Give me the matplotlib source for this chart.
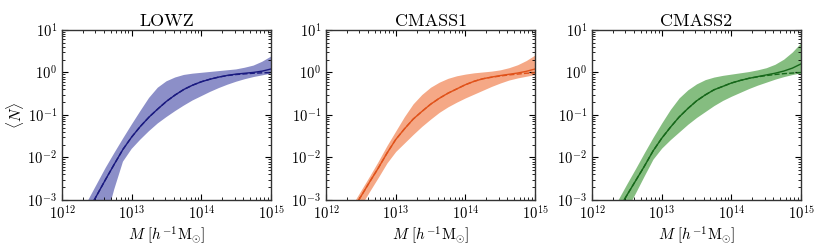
import numpy as np
import matplotlib
matplotlib.use("Agg")
from matplotlib import pyplot as plt

plt.rcParams['font.family'] = 'serif'
plt.rcParams['font.serif'] = ['cmr10']
plt.rcParams['mathtext.fontset'] = 'cm'
plt.rcParams['axes.unicode_minus'] = False
plt.rcParams['axes.formatter.use_mathtext'] = True

# halo mass grid, log10(M / h^-1 Msun)
log_mass = [12.25, 12.375, 12.5, 12.625, 12.75, 12.875, 13.0, 13.125, 13.25, 13.375, 13.5, 13.625,
            13.75, 13.875, 14.0, 14.125, 14.25, 14.375, 14.5, 14.625, 14.75, 14.875, 15.0]

samples = ['LOWZ', 'CMASS1', 'CMASS2']

# log10 <N>: total (solid), centrals (dashed), band edges
lowz_mean = [-3.62, -3.26, -2.89, -2.52, -2.16, -1.81, -1.52, -1.27, -1.05, -0.86, -0.68, -0.53,
             -0.40, -0.30, -0.22, -0.16, -0.11, -0.07, -0.04, -0.02, 0.0, 0.03, 0.08]
lowz_cen = [-3.62, -3.26, -2.89, -2.52, -2.16, -1.81, -1.52, -1.27, -1.05, -0.86, -0.68, -0.53,
            -0.40, -0.30, -0.22, -0.16, -0.11, -0.075, -0.05, -0.035, -0.02, -0.01, -0.005]
lowz_hi = [-3.40, -3.01, -2.63, -2.25, -1.90, -1.56, -1.23, -0.91, -0.60, -0.36, -0.21, -0.12,
           -0.06, -0.03, -0.01, 0.01, 0.03, 0.05, 0.07, 0.11, 0.16, 0.25, 0.37]
lowz_lo = [-5.6, -4.9, -4.2, -3.5, -2.75, -2.10, -1.80, -1.58, -1.38, -1.20, -1.05, -0.91,
           -0.78, -0.66, -0.56, -0.46, -0.37, -0.29, -0.22, -0.16, -0.11, -0.07, -0.03]

cmass1_mean = [-3.6, -3.25, -2.92, -2.58, -2.25, -1.90, -1.58, -1.33, -1.10, -0.92, -0.75, -0.61,
               -0.49, -0.39, -0.29, -0.21, -0.15, -0.11, -0.075, -0.045, -0.015, 0.025, 0.08]
cmass1_cen = [-3.6, -3.25, -2.92, -2.58, -2.25, -1.90, -1.58, -1.33, -1.10, -0.92, -0.75, -0.61,
              -0.49, -0.39, -0.29, -0.21, -0.15, -0.115, -0.085, -0.06, -0.04, -0.02, -0.01]
cmass1_hi = [-3.45, -3.12, -2.78, -2.44, -2.09, -1.72, -1.38, -1.04, -0.74, -0.52, -0.35, -0.23,
             -0.14, -0.08, -0.04, -0.01, 0.01, 0.03, 0.06, 0.11, 0.18, 0.28, 0.41]
cmass1_lo = [-3.85, -3.50, -3.14, -2.80, -2.47, -2.13, -1.86, -1.66, -1.46, -1.27, -1.10, -0.94,
             -0.81, -0.70, -0.60, -0.51, -0.42, -0.33, -0.25, -0.18, -0.13, -0.09, -0.05]

cmass2_mean = [-3.58, -3.24, -2.89, -2.55, -2.21, -1.85, -1.55, -1.29, -1.05, -0.85, -0.67, -0.53,
               -0.41, -0.33, -0.25, -0.19, -0.14, -0.10, -0.06, -0.02, 0.03, 0.10, 0.20]
cmass2_cen = [-3.58, -3.24, -2.89, -2.55, -2.21, -1.85, -1.55, -1.29, -1.05, -0.85, -0.67, -0.53,
              -0.41, -0.33, -0.25, -0.19, -0.14, -0.105, -0.075, -0.05, -0.03, -0.015, -0.005]
cmass2_hi = [-3.35, -2.99, -2.62, -2.26, -1.89, -1.53, -1.19, -0.87, -0.60, -0.41, -0.27, -0.17,
             -0.11, -0.07, -0.04, -0.01, 0.02, 0.06, 0.11, 0.19, 0.31, 0.48, 0.70]
cmass2_lo = [-4.0, -3.6, -3.22, -2.83, -2.43, -2.04, -1.78, -1.58, -1.40, -1.22, -1.06, -0.92,
             -0.78, -0.66, -0.56, -0.47, -0.38, -0.30, -0.23, -0.16, -0.10, -0.05, -0.01]

curves = [
    (lowz_mean, lowz_cen, lowz_hi, lowz_lo, '#8c8fc8', '#1a1a80'),
    (cmass1_mean, cmass1_cen, cmass1_hi, cmass1_lo, '#f5a886', '#e0521a'),
    (cmass2_mean, cmass2_cen, cmass2_hi, cmass2_lo, '#85bd80', '#16681a'),
]

fig = plt.figure(figsize=(8.3, 2.49), dpi=100)
lefts = [0.0747, 0.3928, 0.7133]

M = 10 ** np.array(log_mass)
for i, (name, c) in enumerate(zip(samples, curves)):
    mean, cen, hi, lo, band_col, line_col = c
    ax = fig.add_axes([lefts[i], 0.197, 0.2518, 0.683])
    ax.fill_between(M, 10 ** np.array(lo), 10 ** np.array(hi), color=band_col, lw=0)
    ax.plot(M, 10 ** np.array(mean), color=line_col, lw=1)
    ax.plot(M, 10 ** np.array(cen), color=line_col, lw=1, ls='--')
    ax.set_xscale('log')
    ax.set_yscale('log')
    ax.set_xlim(1e12, 1e15)
    ax.set_ylim(1e-3, 1e1)
    ax.tick_params(which='both', direction='in', top=True, right=True, labelsize=10.5)
    ax.tick_params(which='major', length=4, width=0.8)
    ax.tick_params(which='minor', length=2, width=0.6)
    ax.set_title(name, fontsize=13, pad=3)
    ax.set_xlabel(r'$M\ [h^{-1}\mathrm{M}_{\odot}]$', fontsize=11, labelpad=1)
    if i == 0:
        ax.set_ylabel(r'$\langle N\rangle$', fontsize=11, labelpad=1)
    for s in ax.spines.values():
        s.set_linewidth(1.0)
        s.set_color('#333333')

fig.savefig('out.png', dpi=100)
